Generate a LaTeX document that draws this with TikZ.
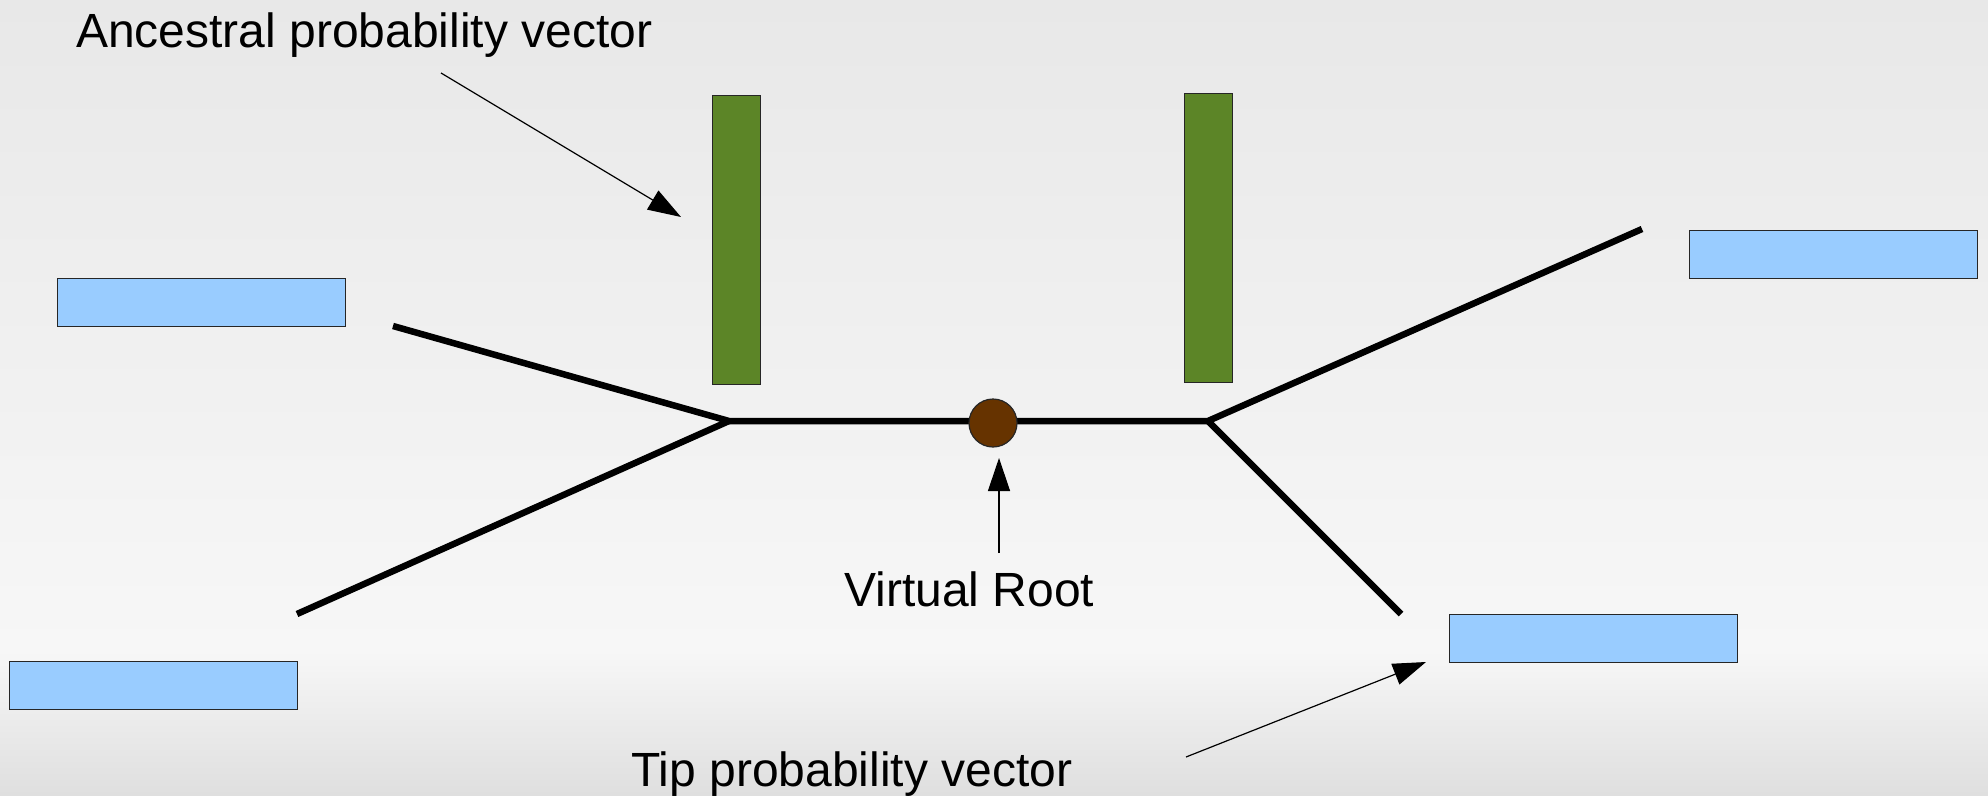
\documentclass[tikz,border=0pt]{standalone}
\usepackage{fontspec}
\setmainfont{Liberation Sans}
\usetikzlibrary{arrows.meta}
\definecolor{tipblue}{HTML}{99CCFF}
\definecolor{ancgreen}{HTML}{5C8527}
\definecolor{rootbrown}{HTML}{663300}
\definecolor{bgtop}{HTML}{E8E8E8}
\definecolor{bgmid}{HTML}{F7F7F7}
\definecolor{bgbot}{HTML}{DFDFDF}
\tikzset{
  tipvec/.style={draw=black!85, line width=1.2pt, fill=tipblue, inner sep=0pt,
    minimum width=288pt, minimum height=48pt, anchor=north west},
  ancvec/.style={draw=black!85, line width=1.2pt, fill=ancgreen, inner sep=0pt,
    minimum width=48pt, minimum height=289pt, anchor=north west},
  branch/.style={line width=6.5pt, black},
  pointer/.style={line width=1.2pt, -{Triangle[length=33pt,width=22pt]}},
  label/.style={inner sep=0pt, anchor=base west, font=\fontsize{48}{57}\selectfont}
}
\begin{document}
\begin{tikzpicture}[x=1pt,y=-1pt]
  % background gradient
  \useasboundingbox (0,0) rectangle (1988,795);
  \shade[top color=bgtop, bottom color=bgmid] (0,0) rectangle (1988,650);
  \shade[top color=bgmid, bottom color=bgbot] (0,650) rectangle (1988,795);

  % tree skeleton
  \coordinate (L) at (729,421);
  \coordinate (R) at (1208,421);
  \coordinate (leafUL) at (393,326);
  \coordinate (leafLL) at (297,614);
  \coordinate (leafUR) at (1642,229);
  \coordinate (leafLR) at (1401,614);
  \draw[branch] (leafUL) -- (L) -- (R) -- (leafUR);
  \draw[branch] (leafLL) -- (L);
  \draw[branch] (R) -- (leafLR);

  % virtual root
  \node[circle, draw=black!85, line width=1.2pt, fill=rootbrown, minimum size=48pt, inner sep=0pt]
    (root) at (993,423) {};

  % ancestral probability vectors
  \node[ancvec] (ancL) at (712,95) {};
  \node[ancvec] (ancR) at (1184,93) {};

  % tip probability vectors
  \node[tipvec] (tipUL) at (57,278) {};
  \node[tipvec] (tipLL) at (9,661) {};
  \node[tipvec] (tipUR) at (1689,230) {};
  \node[tipvec] (tipLR) at (1449,614) {};

  % labels
  \node[label] (ancText) at (76,47) {Ancestral probability vector};
  \node[label] (rootText) at (844,606) {Virtual Root};
  \node[label] (tipText) at (631,786) {Tip probability vector};

  % pointers
  \coordinate (ancFrom) at (441,73);
  \coordinate (ancTo) at (681,217);
  \draw[pointer] (ancFrom) -- (ancTo);
  \coordinate (rootFrom) at (999,553);
  \coordinate (rootTo) at (999,458);
  \draw[pointer] (rootFrom) -- (rootTo);
  \coordinate (tipFrom) at (1186,757);
  \coordinate (tipTo) at (1426,662);
  \draw[pointer] (tipFrom) -- (tipTo);
\end{tikzpicture}
\end{document}
